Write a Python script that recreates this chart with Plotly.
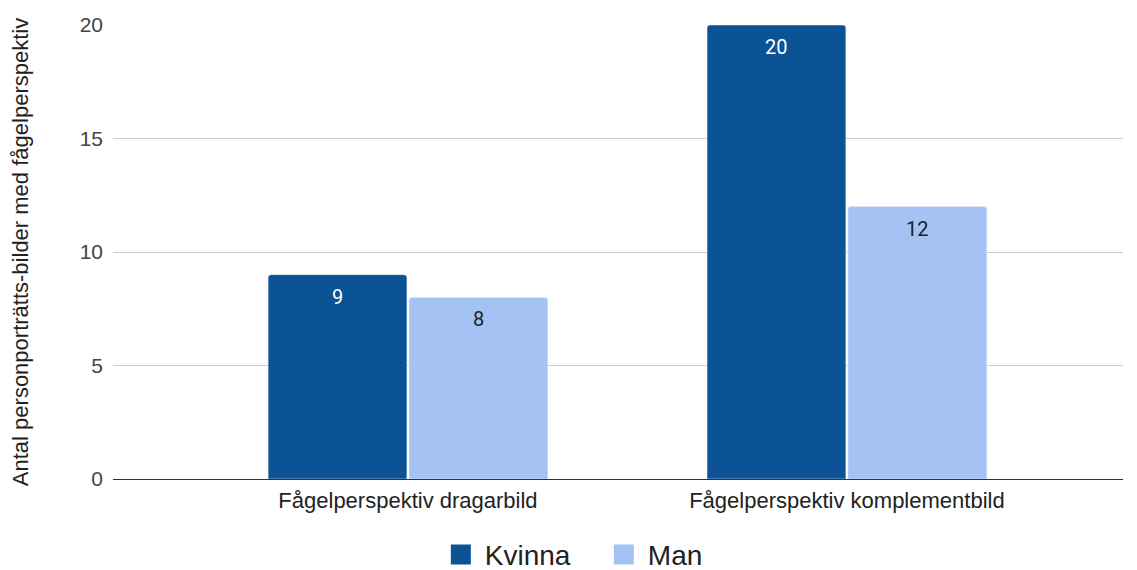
import plotly.graph_objects as go

categories = ["Fågelperspektiv dragarbild", "Fågelperspektiv komplementbild"]
kvinna = [9, 20]
man = [8, 12]
y_ticks = [0, 5, 10, 15, 20]

c_kvinna = "#0b5394"
c_man = "#a4c2f4"
bargap = 0.358
half = (1 - bargap) / 4  # center offset of each bar within a group

fig = go.Figure()
fig.add_trace(go.Bar(name="Kvinna", x=categories, y=kvinna, showlegend=False,
                     marker=dict(color=c_kvinna, cornerradius=3)))
fig.add_trace(go.Bar(name="Man", x=categories, y=man, showlegend=False,
                     marker=dict(color=c_man, cornerradius=3)))
# legend entries with larger square swatches
for name, col in [("Kvinna", c_kvinna), ("Man", c_man)]:
    fig.add_trace(go.Scatter(name=name, x=[None], y=[None], mode="markers",
                             marker=dict(symbol="square", size=16, color=col,
                                         line=dict(color=col, width=4))))

annotations = []
for vals, off, col in [(kvinna, -half, "#ffffff"), (man, half, "#222222")]:
    for i, v in enumerate(vals):
        annotations.append(dict(x=i + off, y=v, xref="x", yref="y", text=str(v),
                                showarrow=False, yanchor="middle", yshift=-22,
                                font=dict(family="Roboto", size=20, color=col)))

fig.update_layout(
    width=1137, height=570,
    paper_bgcolor="white", plot_bgcolor="white",
    margin=dict(l=105, r=22, t=17, b=99, autoexpand=False),
    barmode="group", bargap=bargap, bargroupgap=0.015,
    font=dict(family="Liberation Sans, Arial", color="#444444", size=20),
    showlegend=True,
    annotations=annotations,
    legend=dict(orientation="h", x=0.482, xanchor="center", xref="paper",
                y=-0.167, yanchor="middle", yref="paper",
                font=dict(size=28, color="#222222"), itemwidth=38,
                entrywidth=110, tracegroupgap=0),
    xaxis=dict(range=[-0.672, 1.629], showgrid=False, ticks="", automargin=False,
               tickfont=dict(size=22, color="#222222"), ticklabelstandoff=6),
    yaxis=dict(range=[0, 20], tickvals=y_ticks, showgrid=True, gridcolor="#cccccc",
               zeroline=True, zerolinecolor="#333333", zerolinewidth=1,
               automargin=False,
               tickfont=dict(size=21, color="#444444"),
               title=dict(text="Antal personporträtts-bilder med fågelperspektiv",
                          font=dict(size=22, color="#222222"), standoff=45),
               ticklabelstandoff=9),
)
fig.write_html("out.html")
